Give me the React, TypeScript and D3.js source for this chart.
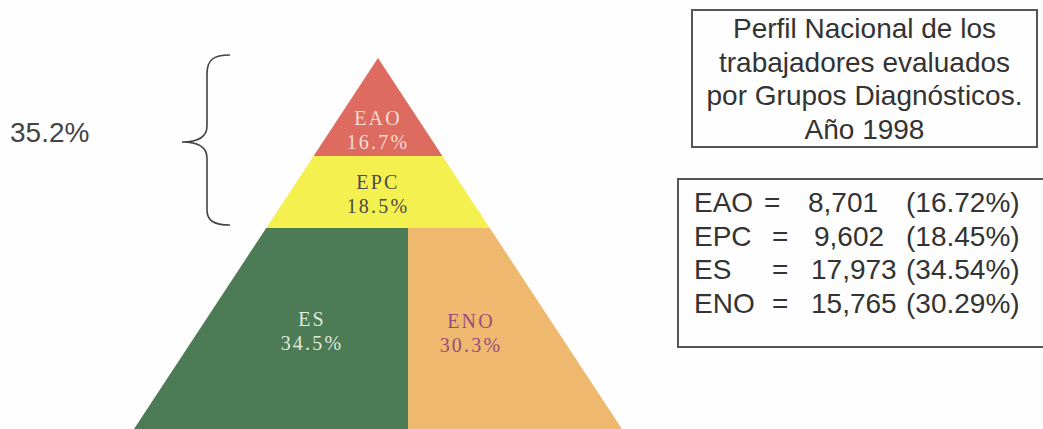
import React from "react";
import * as d3 from "d3";

// ---------- data ----------
const groups = ["EAO", "EPC", "ES", "ENO"];
const counts = [8701, 9602, 17973, 15765];
const percents = [16.72, 18.45, 34.54, 30.29];
const titleLines = [
  "Perfil Nacional de los",
  "trabajadores evaluados",
  "por Grupos Diagnósticos.",
  "Año 1998",
];
// pyramid levels (fraction of height from apex) where layers change
const levelBreaks = [0, 0.264, 0.458, 1];

const W = 1043;
const H = 429;

const fills: Record<string, string> = {
  EAO: "#de6b5f",
  EPC: "#f4f04f",
  ES: "#4c7b55",
  ENO: "#eeb86f",
};
const textFills: Record<string, string> = {
  EAO: "#f6dcd4",
  EPC: "#4a4a4a",
  ES: "#dfe9db",
  ENO: "#9a4d7a",
};

export default function App() {
  const apexX = 378;
  const y = d3.scaleLinear().domain([0, 1]).range([58, 429]);
  const halfW = d3.scaleLinear().domain([0, 1]).range([0, 244]);
  const divX = apexX + 30;

  const xl = (t: number) => apexX - halfW(t);
  const xr = (t: number) => apexX + halfW(t);

  const line = d3.line<[number, number]>();

  const [b0, b1, b2, b3] = levelBreaks;
  const shapes = [
    { key: "EAO", pts: [[apexX, y(b0)], [xr(b1), y(b1)], [xl(b1), y(b1)]] },
    { key: "EPC", pts: [[xl(b1), y(b1)], [xr(b1), y(b1)], [xr(b2), y(b2)], [xl(b2), y(b2)]] },
    { key: "ES", pts: [[xl(b2), y(b2)], [divX, y(b2)], [divX, y(b3)], [xl(b3), y(b3)]] },
    { key: "ENO", pts: [[divX, y(b2)], [xr(b2), y(b2)], [xr(b3), y(b3)], [divX, y(b3)]] },
  ] as { key: string; pts: [number, number][] }[];

  const pct1 = (v: number) => (Math.round(v * 10 + 1e-6) / 10).toFixed(1);
  const labelPos: Record<string, [number, number]> = {
    EAO: [apexX, 125],
    EPC: [apexX, 189],
    ES: [312, 326],
    ENO: [471, 328],
  };

  const topTwo = percents[0] + percents[1];
  const comma = d3.format(",");

  const bracePath =
    "M230,55 C213,55 207,60 207,74 L207,126 C207,137 199,142 182,142 " +
    "C199,142 207,147 207,158 L207,210 C207,220 213,225 230,225";

  const sans = "'Liberation Sans', Arial, sans-serif";
  const serif = "'Liberation Serif', 'Times New Roman', serif";

  return (
    <svg
      width={W}
      height={H}
      style={{ position: "absolute", left: 0, top: 0, background: "#fff" }}
    >
      <rect width={W} height={H} fill="#fefefe" />
      {shapes.map((s) => (
        <path key={s.key} d={line(s.pts) + "Z"} fill={fills[s.key]} />
      ))}
      {groups.map((g, i) => {
        const [cx, cy] = labelPos[g];
        return (
          <text
            key={g}
            textAnchor="middle"
            fontFamily={serif}
            fontSize={20}
            letterSpacing={2.2}
            fill={textFills[g]}
          >
            <tspan x={cx} y={cy}>{g}</tspan>
            <tspan x={cx} y={cy + 24}>{pct1(percents[i])}%</tspan>
          </text>
        );
      })}

      <path d={bracePath} fill="none" stroke="#444" strokeWidth={1.6} />
      <text x={10} y={142} fontFamily={sans} fontSize={28} fill="#444">
        {pct1(topTwo)}%
      </text>

      {/* title box */}
      <rect x={692} y={10} width={345} height={137} fill="#fefefe" stroke="#555" strokeWidth={2} />
      <text fontFamily={sans} fontSize={28} fill="#333" textAnchor="middle">
        {titleLines.map((t, i) => (
          <tspan key={i} x={864.5} y={38 + i * 33.5}>{t}</tspan>
        ))}
      </text>

      {/* values box */}
      <rect x={678} y={179} width={380} height={168} fill="#fefefe" stroke="#555" strokeWidth={2} />
      {groups.map((g, i) => {
        const by = 212 + i * 33.5;
        return (
          <g key={g} fontFamily={sans} fontSize={28} fill="#333">
            <text x={694} y={by}>{g}</text>
            <text x={i === 0 ? 764 : 772} y={by}>=</text>
            <text x={counts[i] < 10000 ? 808 + i * 6 : 811} y={by}>{comma(counts[i])}</text>
            <text x={906} y={by}>({percents[i].toFixed(2)}%)</text>
          </g>
        );
      })}
    </svg>
  );
}
